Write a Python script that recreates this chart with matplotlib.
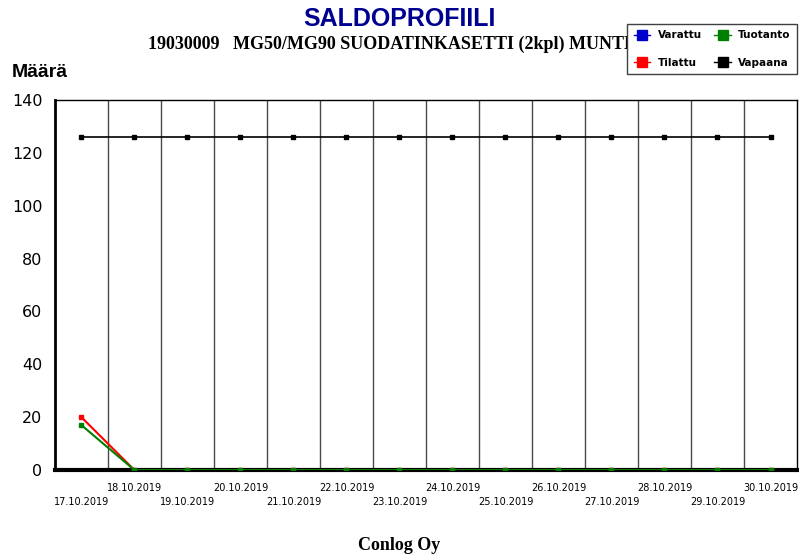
import matplotlib.pyplot as plt
from matplotlib.lines import Line2D

dates = ['17.10.2019', '18.10.2019', '19.10.2019', '20.10.2019', '21.10.2019',
         '22.10.2019', '23.10.2019', '24.10.2019', '25.10.2019', '26.10.2019',
         '27.10.2019', '28.10.2019', '29.10.2019', '30.10.2019']
varattu = [0, 0, 0, 0, 0, 0, 0, 0, 0, 0, 0, 0, 0, 0]
tilattu = [20, 0, 0, 0, 0, 0, 0, 0, 0, 0, 0, 0, 0, 0]
tuotanto = [17, 0, 0, 0, 0, 0, 0, 0, 0, 0, 0, 0, 0, 0]
vapaana = [126, 126, 126, 126, 126, 126, 126, 126, 126, 126, 126, 126, 126, 126]

x = list(range(len(dates)))

fig = plt.figure(figsize=(7.99, 5.57), dpi=100)
ax = fig.add_axes([0.0688, 0.156, 0.9287, 0.6645])

ax.plot(x, varattu, color='#0000cc', lw=1.5, zorder=1.5)
ax.plot(x, tilattu, color='red', lw=1.5, marker='s', ms=3.5, zorder=3)
ax.plot(x, tuotanto, color='green', lw=1.5, marker='s', ms=3.5, zorder=4)
ax.plot(x, vapaana, color='black', lw=1.2, marker='s', ms=3, zorder=4)

ax.set_xlim(-0.5, len(dates) - 0.5)
ax.set_ylim(0, 140)
ax.set_yticks(range(0, 141, 20))
ax.tick_params(axis='y', length=0, labelsize=11.5, pad=9)

# vertical grid between days
for i in range(len(dates) - 1):
    ax.axvline(i + 0.5, color='#4a4a4a', lw=1, zorder=1)

ax.set_xticks(x)
labs = [('\n' + d) if i % 2 == 0 else d for i, d in enumerate(dates)]
ax.set_xticklabels(labs, fontsize=7, linespacing=1.5)
ax.tick_params(axis='x', length=0, pad=9)

for s in ['left', 'right', 'top']:
    ax.spines[s].set_color('black')
ax.spines['left'].set_linewidth(2)
ax.spines['bottom'].set_linewidth(3)
ax.spines['right'].set_linewidth(1)
ax.spines['top'].set_linewidth(1)

fig.text(0.5, 0.966, 'SALDOPROFIILI', ha='center', va='center', color='#000090',
         fontsize=18, fontweight='bold', family='Liberation Sans')
fig.text(0.505, 0.921, '19030009   MG50/MG90 SUODATINKASETTI (2kpl) MUNTERS', ha='center',
         va='center', fontsize=13, fontweight='bold', family='Liberation Serif')
fig.text(0.015, 0.87, 'Määrä', ha='left', va='center', fontsize=14, fontweight='bold',
         family='Liberation Sans')
fig.text(0.5, 0.021, 'Conlog Oy', ha='center', va='center', fontsize=13, fontweight='bold',
         family='Liberation Serif')

handles = [
    Line2D([], [], color='#0000cc', marker='s', ms=7, lw=1),
    Line2D([], [], color='red', marker='s', ms=7, lw=1),
    Line2D([], [], color='green', marker='s', ms=7, lw=1),
    Line2D([], [], color='black', marker='s', ms=7, lw=1),
]
leg = fig.legend(handles, ['Varattu', 'Tilattu', 'Tuotanto', 'Vapaana'], ncol=2,
                 loc='upper right', bbox_to_anchor=(0.9975, 0.957), borderaxespad=0,
                 fancybox=False, edgecolor='#404040', framealpha=1,
                 prop={'size': 7.5, 'weight': 'bold'},
                 handlelength=1.6, columnspacing=1.2, labelspacing=1.7,
                 borderpad=0.6, handletextpad=0.7)
leg.get_frame().set_linewidth(1)
leg.set_zorder(10)

fig.savefig('out.png', dpi=100)
